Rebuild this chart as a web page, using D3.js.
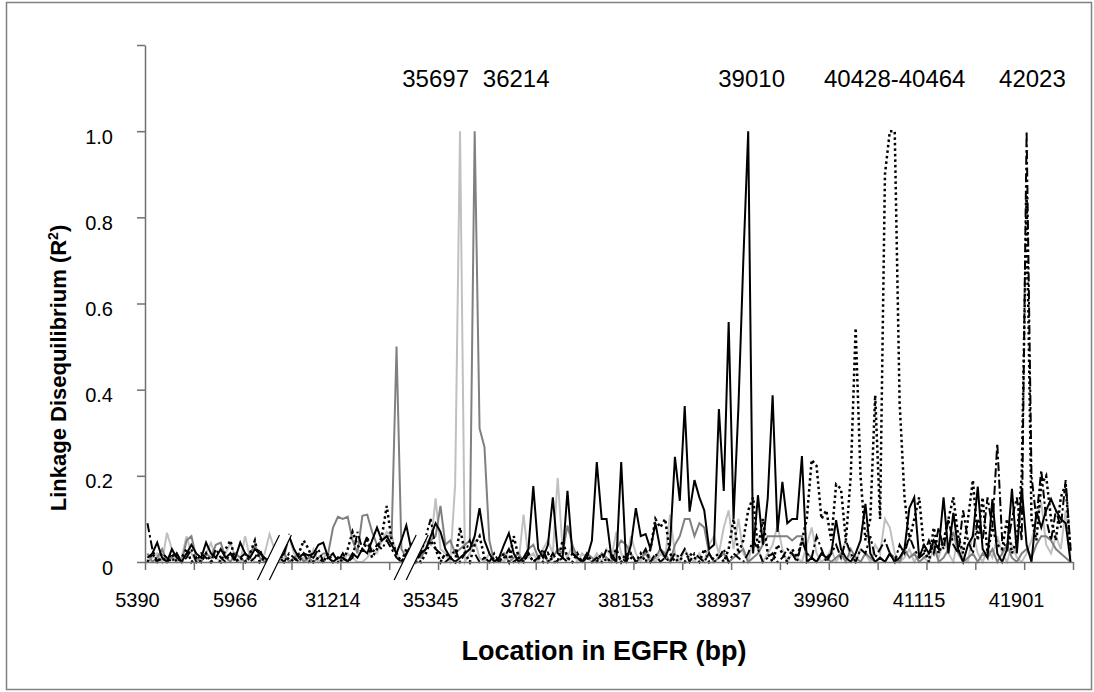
<!DOCTYPE html>
<html lang="en">
<head>
<meta charset="UTF-8" />
<title>Linkage Disequilibrium in EGFR</title>
<style>
  body { margin: 0; background: #fff; font-family: Arial, "Liberation Sans", sans-serif; }
  svg { display: block; }
  .axis path, .axis line { stroke: #707070; stroke-width: 1.5; }
  .axis text { font-size: 20px; fill: #000; font-family: Arial, "Liberation Sans", sans-serif; }
  .peak-label { font-size: 24px; fill: #000; }
  .title { font-weight: bold; fill: #000; }
  .series { fill: none; stroke-linejoin: miter; }
</style>
</head>
<body>
<svg id="chart" width="1094" height="692"></svg>
<script src="https://d3js.org/d3.v7.min.js"></script>
<script>
  // x tick labels, one for every 20 locations
  const tickLabels = ["5390", "5966", "31214", "35345", "37827", "38153", "38937", "39960", "41115", "41901"];

  // named SNP peaks written over the chart (text, category index it sits over)
  const peakNames = ["35697", "36214", "39010", "40428-40464", "42023"];
  const peakAt = [59, 75.5, 123.7, 153, 181.2];

  // category index where the axis is broken
  const axisBreaks = [26, 54];

  // R2 values, 190 locations, one row = 10 locations
  const lightGray = [
    0.0, 0.01, 0.02, 0.0, 0.068, 0.03, 0.0, 0.01, 0.06, 0.02,
    0.0, 0.01, 0.02, 0.044, 0.01, 0.0, 0.02, 0.044, 0.01, 0.0,
    0.06, 0.01, 0.0, 0.0, 0.02, 0.065, 0.03, 0.0, 0.01, 0.06,
    0.02, 0.0, 0.01, 0.0, 0.03, 0.0, 0.01, 0.02, 0.0, 0.01,
    0.0, 0.02, 0.01, 0.0, 0.0, 0.01, 0.03, 0.02, 0.05, 0.07,
    0.06, 0.02, 0.0, 0.01, 0.03, 0.0, 0.02, 0.05, 0.04, 0.148,
    0.03, 0.02, 0.0, 0.18, 1.0, 0.0, 0.02, 0.05, 0.01, 0.0,
    0.02, 0.0, 0.01, 0.0, 0.03, 0.02, 0.0, 0.11, 0.01, 0.02,
    0.0, 0.03, 0.05, 0.02, 0.195, 0.03, 0.01, 0.04, 0.0, 0.02,
    0.01, 0.0, 0.02, 0.0, 0.03, 0.01, 0.07, 0.02, 0.0, 0.06,
    0.02, 0.0, 0.03, 0.01, 0.0, 0.02, 0.01, 0.11, 0.02, 0.0,
    0.03, 0.01, 0.0, 0.02, 0.0, 0.04, 0.06, 0.02, 0.08, 0.12,
    0.03, 0.1, 0.02, 0.0, 0.05, 0.03, 0.0, 0.02, 0.04, 0.085,
    0.03, 0.0, 0.02, 0.01, 0.0, 0.04, 0.08, 0.02, 0.0, 0.01,
    0.03, 0.0, 0.02, 0.05, 0.01, 0.0, 0.03, 0.02, 0.0, 0.04,
    0.02, 0.1, 0.08, 0.02, 0.0, 0.01, 0.03, 0.0, 0.02, 0.01,
    0.0, 0.03, 0.01, 0.05, 0.02, 0.0, 0.06, 0.01, 0.0, 0.07,
    0.02, 0.0, 0.03, 0.01, 0.06, 0.02, 0.0, 0.04, 0.01, 0.0,
    0.02, 0.05, 0.1, 0.14, 0.04, 0.02, 0.06, 0.03, 0.12, 0.01
  ];

  const midGray = [
    0.02, 0.0, 0.01, 0.03, 0.0, 0.01, 0.02, 0.0, 0.05, 0.06,
    0.01, 0.0, 0.02, 0.01, 0.04, 0.045, 0.01, 0.0, 0.02, 0.01,
    0.0, 0.02, 0.04, 0.01, 0.0, 0.01, 0.0, 0.01, 0.02, 0.0,
    0.01, 0.02, 0.0, 0.01, 0.0, 0.01, 0.02, 0.02, 0.08, 0.105,
    0.1, 0.105, 0.05, 0.02, 0.107, 0.11, 0.07, 0.04, 0.05, 0.06,
    0.06, 0.5, 0.03, 0.01, 0.0, 0.02, 0.01, 0.03, 0.05, 0.06,
    0.13, 0.04, 0.05, 0.02, 0.03, 0.04, 0.05, 1.0, 0.31, 0.267,
    0.05, 0.0, 0.01, 0.02, 0.0, 0.01, 0.02, 0.0, 0.03, 0.04,
    0.01, 0.02, 0.0, 0.01, 0.03, 0.02, 0.085, 0.04, 0.01, 0.0,
    0.02, 0.01, 0.0, 0.02, 0.01, 0.0, 0.03, 0.05, 0.04, 0.02,
    0.0, 0.01, 0.02, 0.0, 0.01, 0.03, 0.02, 0.0, 0.04, 0.06,
    0.1, 0.1, 0.06, 0.09, 0.08, 0.02, 0.0, 0.01, 0.02, 0.0,
    0.01, 0.02, 0.03, 0.0, 0.01, 0.02, 0.04, 0.06, 0.06, 0.06,
    0.06, 0.06, 0.05, 0.06, 0.06, 0.02, 0.01, 0.0, 0.02, 0.01,
    0.0, 0.01, 0.02, 0.0, 0.03, 0.01, 0.0, 0.02, 0.01, 0.0,
    0.01, 0.0, 0.02, 0.01, 0.0, 0.03, 0.01, 0.02, 0.0, 0.01,
    0.02, 0.04, 0.0, 0.01, 0.03, 0.07, 0.02, 0.0, 0.01, 0.02,
    0.0, 0.02, 0.01, 0.03, 0.0, 0.02, 0.04, 0.01, 0.0, 0.02,
    0.03, 0.01, 0.04, 0.06, 0.06, 0.05, 0.03, 0.02, 0.01, 0.0
  ];

  const blackSolid = [
    0.01, 0.02, 0.045, 0.01, 0.0, 0.03, 0.01, 0.0, 0.02, 0.04,
    0.02, 0.01, 0.045, 0.02, 0.01, 0.03, 0.01, 0.02, 0.01, 0.045,
    0.02, 0.01, 0.03, 0.02, 0.01, 0.0, 0.0, 0.01, 0.02, 0.06,
    0.03, 0.01, 0.02, 0.015, 0.02, 0.04, 0.045, 0.01, 0.0, 0.01,
    0.01, 0.0, 0.02, 0.01, 0.03, 0.02, 0.05, 0.08, 0.05, 0.06,
    0.04, 0.02, 0.05, 0.085, 0.03, 0.01, 0.02, 0.03, 0.06, 0.09,
    0.07, 0.03, 0.01, 0.0, 0.01, 0.02, 0.03, 0.06, 0.125, 0.05,
    0.02, 0.0, 0.01, 0.04, 0.067, 0.02, 0.0, 0.01, 0.03, 0.176,
    0.03, 0.01, 0.04, 0.15, 0.02, 0.01, 0.165, 0.02, 0.01, 0.0,
    0.01, 0.05, 0.232, 0.1, 0.1, 0.01, 0.0, 0.232, 0.0, 0.04,
    0.125, 0.06, 0.065, 0.03, 0.09, 0.03, 0.01, 0.04, 0.244, 0.142,
    0.362, 0.117, 0.19, 0.15, 0.12, 0.03, 0.04, 0.355, 0.165, 0.557,
    0.1, 0.36, 0.7, 1.0, 0.02, 0.155, 0.04, 0.148, 0.387, 0.07,
    0.186, 0.09, 0.1, 0.1, 0.246, 0.0, 0.01, 0.0, 0.02, 0.01,
    0.02, 0.097, 0.03, 0.01, 0.0, 0.02, 0.05, 0.135, 0.02, 0.0,
    0.01, 0.0, 0.02, 0.0, 0.01, 0.03, 0.125, 0.15, 0.01, 0.04,
    0.02, 0.05, 0.03, 0.15, 0.02, 0.114, 0.03, 0.0, 0.04, 0.06,
    0.175, 0.03, 0.01, 0.146, 0.02, 0.0, 0.03, 0.17, 0.02, 0.172,
    0.04, 0.0, 0.117, 0.08, 0.12, 0.146, 0.12, 0.1, 0.09, 0.0
  ];

  const blackDotted = [
    0.0, 0.02, 0.0, 0.01, 0.0, 0.02, 0.0, 0.01, 0.03, 0.0,
    0.01, 0.0, 0.02, 0.0, 0.01, 0.0, 0.03, 0.05, 0.0, 0.01,
    0.0, 0.02, 0.05, 0.0, 0.01, 0.0, 0.0, 0.02, 0.0, 0.01,
    0.0, 0.02, 0.05, 0.03, 0.0, 0.01, 0.0, 0.02, 0.0, 0.01,
    0.0, 0.03, 0.07, 0.04, 0.02, 0.05, 0.01, 0.03, 0.06, 0.13,
    0.05, 0.02, 0.0, 0.03, 0.0, 0.01, 0.0, 0.02, 0.05, 0.03,
    0.0, 0.02, 0.01, 0.0, 0.08, 0.02, 0.0, 0.04, 0.06, 0.01,
    0.0, 0.01, 0.0, 0.02, 0.0, 0.06, 0.01, 0.0, 0.02, 0.0,
    0.01, 0.0, 0.02, 0.0, 0.0, 0.05, 0.01, 0.0, 0.02, 0.0,
    0.01, 0.0, 0.0, 0.02, 0.0, 0.01, 0.03, 0.0, 0.02, 0.01,
    0.0, 0.02, 0.0, 0.03, 0.1, 0.08, 0.1, 0.02, 0.0, 0.01,
    0.0, 0.02, 0.01, 0.0, 0.03, 0.0, 0.01, 0.02, 0.0, 0.03,
    0.1, 0.02, 0.05, 0.12, 0.15, 0.03, 0.1, 0.02, 0.0, 0.04,
    0.02, 0.0, 0.03, 0.01, 0.05, 0.1, 0.237, 0.223, 0.1, 0.12,
    0.05, 0.18, 0.17, 0.05, 0.2, 0.543, 0.2, 0.05, 0.1, 0.387,
    0.1, 0.9, 1.0, 1.0, 0.37, 0.15, 0.05, 0.1, 0.15, 0.03,
    0.0, 0.08, 0.02, 0.05, 0.1, 0.15, 0.06, 0.02, 0.1, 0.19,
    0.05, 0.15, 0.02, 0.08, 0.04, 0.03, 0.1, 0.02, 0.05, 0.2,
    0.85, 0.1, 0.05, 0.18, 0.2, 0.1, 0.05, 0.15, 0.18, 0.02
  ];

  const blackDashDot = [
    0.09, 0.03, 0.0, 0.02, 0.01, 0.0, 0.02, 0.0, 0.01, 0.03,
    0.0, 0.02, 0.01, 0.0, 0.03, 0.01, 0.0, 0.02, 0.0, 0.01,
    0.02, 0.0, 0.01, 0.03, 0.0, 0.0, 0.02, 0.01, 0.0, 0.02,
    0.01, 0.0, 0.02, 0.0, 0.01, 0.03, 0.0, 0.01, 0.02, 0.0,
    0.02, 0.0, 0.01, 0.07, 0.03, 0.06, 0.02, 0.04, 0.03, 0.05,
    0.03, 0.01, 0.0, 0.02, 0.04, 0.0, 0.02, 0.06, 0.1, 0.03,
    0.02, 0.0, 0.01, 0.03, 0.0, 0.02, 0.05, 0.02, 0.0, 0.01,
    0.0, 0.02, 0.0, 0.01, 0.03, 0.0, 0.01, 0.0, 0.02, 0.0,
    0.01, 0.03, 0.0, 0.02, 0.0, 0.01, 0.0, 0.02, 0.01, 0.0,
    0.02, 0.0, 0.01, 0.0, 0.03, 0.02, 0.0, 0.01, 0.0, 0.02,
    0.0, 0.01, 0.03, 0.0, 0.02, 0.0, 0.01, 0.0, 0.02, 0.01,
    0.03, 0.0, 0.02, 0.01, 0.0, 0.02, 0.0, 0.01, 0.03, 0.0,
    0.02, 0.01, 0.0, 0.02, 0.05, 0.03, 0.0, 0.01, 0.02, 0.0,
    0.01, 0.03, 0.02, 0.0, 0.05, 0.02, 0.01, 0.06, 0.03, 0.0,
    0.02, 0.04, 0.01, 0.05, 0.02, 0.0, 0.03, 0.02, 0.06, 0.01,
    0.03, 0.05, 0.02, 0.0, 0.04, 0.02, 0.06, 0.03, 0.01, 0.02,
    0.05, 0.02, 0.08, 0.03, 0.1, 0.04, 0.02, 0.12, 0.05, 0.02,
    0.1, 0.05, 0.15, 0.08, 0.275, 0.05, 0.03, 0.1, 0.15, 0.05,
    1.0, 0.2, 0.1, 0.213, 0.1, 0.05, 0.12, 0.08, 0.19, 0.03
  ];

  const series = [
    { values: lightGray, color: "#c0c0c0", width: 2, dash: null },
    { values: midGray, color: "#808080", width: 2, dash: null },
    { values: blackSolid, color: "#000", width: 2, dash: null },
    { values: blackDotted, color: "#000", width: 2.5, dash: "2.5,3" },
    { values: blackDashDot, color: "#000", width: 2, dash: "9,3,2.5,3" }
  ];

  const svg = d3.select("#chart");
  const n = lightGray.length;
  const plotLeft = 145, plotRight = 1073, plotTop = 45, plotBottom = 562;

  // each location sits in the middle of its slot, ticks between slots
  const x = d3.scaleLinear().domain([-0.5, n - 0.5]).range([plotLeft, plotRight]);
  const y = d3.scaleLinear().domain([0, 1.2]).range([plotBottom, plotTop]);

  // outer frame
  svg.append("rect")
    .attr("x", 6.5).attr("y", 2.5)
    .attr("width", 1085).attr("height", 687)
    .attr("fill", "none").attr("stroke", "#808080").attr("stroke-width", 1.5);

  const line = d3.line()
    .x((d, i) => x(i))
    .y(d => y(d));

  svg.append("g").selectAll("path")
    .data(series)
    .enter().append("path")
    .attr("class", "series")
    .attr("d", d => line(d.values))
    .attr("stroke", d => d.color)
    .attr("stroke-width", d => d.width)
    .attr("stroke-dasharray", d => d.dash);

  // y axis
  const yAxis = d3.axisLeft(y)
    .tickValues([0, 0.2, 0.4, 0.6, 0.8, 1.0, 1.2])
    .tickSize(8)
    .tickSizeOuter(0)
    .tickPadding(24)
    .tickFormat(d => d === 0 ? "0" : d > 1.1 ? "" : d.toFixed(1));
  svg.append("g")
    .attr("class", "axis")
    .attr("transform", `translate(${plotLeft},0)`)
    .call(yAxis)
    .selectAll("text").attr("dy", "0.6em");

  // x axis: tick every 10 locations, label every 20
  const xTicks = d3.range(0, n + 1, 10).map(i => i - 0.5);
  const xAxis = d3.axisBottom(x)
    .tickValues(xTicks)
    .tickSize(8)
    .tickSizeOuter(0)
    .tickFormat((d, k) => k % 2 === 0 && tickLabels[k / 2] ? tickLabels[k / 2] : "");
  svg.append("g")
    .attr("class", "axis")
    .attr("transform", `translate(0,${plotBottom})`)
    .call(xAxis)
    .selectAll("text")
    .attr("y", 45).attr("dy", 0).attr("dx", -8);

  // axis break marks
  const brk = svg.append("g");
  axisBreaks.forEach(b => {
    const c = x(b);
    brk.append("path")
      .attr("d", `M${c - 17},580 L${c + 5},535 L${c + 17},535 L${c - 5},580 Z`)
      .attr("fill", "#fff");
    brk.append("path")
      .attr("d", `M${c - 17},580 L${c + 5},535 M${c - 5},580 L${c + 17},535`)
      .attr("stroke", "#000").attr("stroke-width", 1.2);
  });

  // peak names
  svg.append("g").selectAll("text")
    .data(peakNames)
    .enter().append("text")
    .attr("class", "peak-label")
    .attr("x", (d, i) => x(peakAt[i]))
    .attr("y", 87)
    .attr("text-anchor", "middle")
    .text(d => d);

  // axis titles
  svg.append("text")
    .attr("class", "title")
    .attr("x", (plotLeft + plotRight) / 2 - 5)
    .attr("y", 660)
    .attr("text-anchor", "middle")
    .style("font-size", "27px")
    .text("Location in EGFR (bp)");

  const yTitle = svg.append("text")
    .attr("class", "title")
    .attr("transform", "translate(66,368) rotate(-90)")
    .attr("text-anchor", "middle")
    .style("font-size", "22px");
  yTitle.append("tspan").text("Linkage Disequilibrium (R");
  yTitle.append("tspan").attr("baseline-shift", "super").style("font-size", "14px").text("2");
  yTitle.append("tspan").text(")");
</script>
</body>
</html>
